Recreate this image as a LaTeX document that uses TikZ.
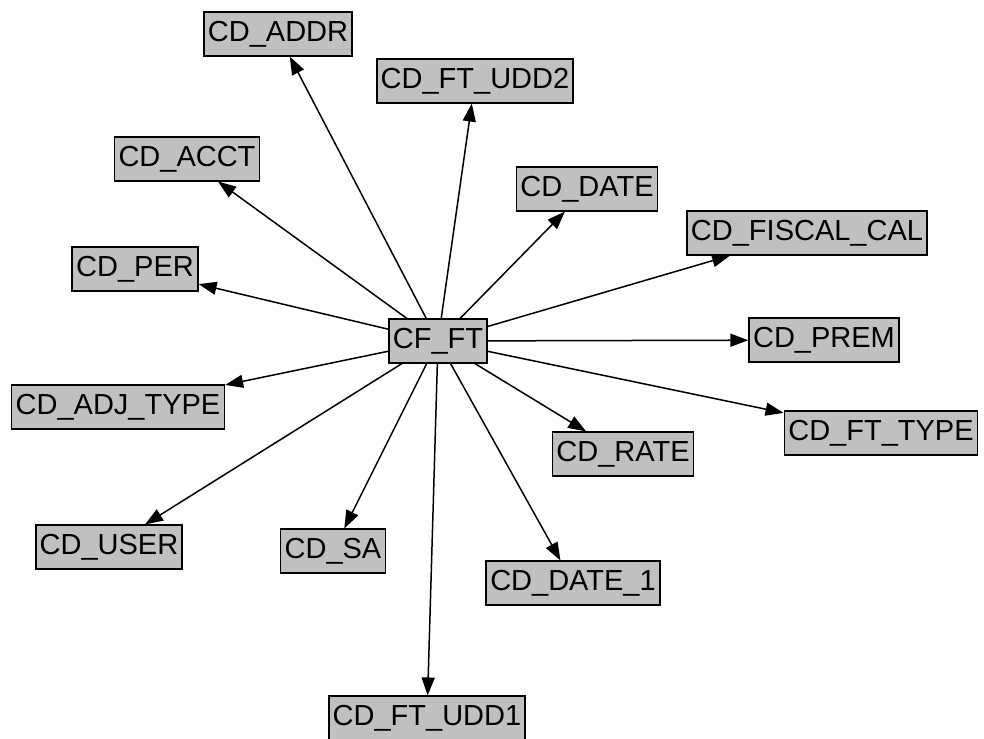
\documentclass[tikz,border=0pt]{standalone}
\usepackage{fontspec}
\setmainfont{Liberation Sans}
\usetikzlibrary{arrows.meta}
\definecolor{boxgray}{RGB}{192,192,192}
\begin{document}
\begin{tikzpicture}[x=1pt,y=-1pt,
  tbl/.style={draw=black, line width=1.6pt, fill=boxgray, font=\fontsize{29}{33}\selectfont,
    text height=20.5pt, text depth=5pt, inner xsep=4pt, inner ysep=9pt},
  rel/.style={draw=black, line width=1.5pt, -{Triangle[length=18pt,width=13pt]}}]
\path[use as bounding box] (0,0) rectangle (984,738);
\node[tbl] (cf) at (438,341) {CF\_FT};
\node[tbl] (addr) at (278,34) {CD\_ADDR};
\node[tbl] (udd2) at (475,81) {CD\_FT\_UDD2};
\node[tbl] (acct) at (187,159) {CD\_ACCT};
\node[tbl] (date) at (587,189) {CD\_DATE};
\node[tbl] (fiscal) at (807,233) {CD\_FISCAL\_CAL};
\node[tbl] (per) at (135,269) {CD\_PER};
\node[tbl] (prem) at (824,340) {CD\_PREM};
\node[tbl] (adj) at (118,407) {CD\_ADJ\_TYPE};
\node[tbl] (fttype) at (881,433) {CD\_FT\_TYPE};
\node[tbl] (rate) at (623,454) {CD\_RATE};
\node[tbl] (user) at (109,547) {CD\_USER};
\node[tbl] (sa) at (333,551) {CD\_SA};
\node[tbl] (date1) at (573,583) {CD\_DATE\_1};
\node[tbl] (udd1) at (427,718) {CD\_FT\_UDD1};
\foreach \t in {addr,udd2,acct,date,fiscal,per,prem,adj,fttype,rate,user,sa,date1,udd1}
  \draw[rel] (cf) -- (\t);
\end{tikzpicture}
\end{document}
